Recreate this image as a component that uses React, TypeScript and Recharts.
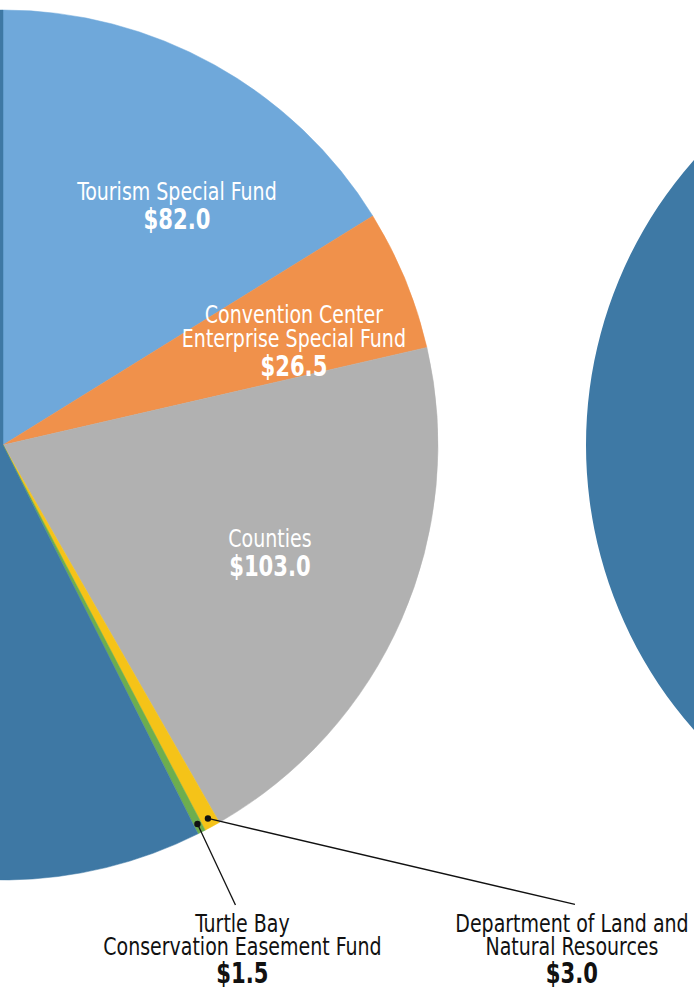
import React from "react";
import { PieChart, Pie, Cell } from "recharts";

// values in $ millions
const names = [
  "Tourism Special Fund",
  "Convention Center Enterprise Special Fund",
  "Counties",
  "Department of Land and Natural Resources",
  "Turtle Bay Conservation Easement Fund",
  "Remaining Allocation",
];
const values = [82.0, 26.5, 103.0, 3.0, 1.5, 291.0];
const valueLabels = ["$82.0", "$26.5", "$103.0", "$3.0", "$1.5", ""];
const labelLines = [
  ["Tourism Special Fund"],
  ["Convention Center", "Enterprise Special Fund"],
  ["Counties"],
  ["Department of Land and", "Natural Resources"],
  ["Turtle Bay", "Conservation Easement Fund"],
  [],
];
const colors = ["#6FA8DA", "#F0914B", "#B1B1B1", "#F5C318", "#6DAE4F", "#3E78A4"];

const rightNames = ["Right Pie"];
const rightValues = [1];
const rightColors = ["#3E79A5"];

const data = names.map((name, i) => ({
  name,
  value: values[i],
  valueLabel: valueLabels[i],
  lines: labelLines[i],
  color: colors[i],
}));
const rightData = rightNames.map((name, i) => ({ name, value: rightValues[i], color: rightColors[i] }));

const FONT = "'Liberation Sans Narrow', 'DejaVu Sans Condensed', 'Arial Narrow', sans-serif";
const RAD = Math.PI / 180;

// label layout: inside labels placed along the slice angle, outside ones with a leader line
const inside: Record<number, { rf: number; shift: number }> = {
  0: { rf: 0.69, shift: -6.3 },
  1: { rf: 0.725, shift: 0.35 },
  2: { rf: 0.657, shift: 2.7 },
};
const outside: Record<number, { line: [number, number]; text: [number, number] }> = {
  3: { line: [367, 86], text: [364, 114] },
  4: { line: [38, 81], text: [45, 108] },
};

// narrow text: squeeze horizontally around its anchor
const Narrow = ({ x, y, size, bold, fill, sx, children }: any) => (
  <text
    transform={`translate(${x},${y}) scale(${sx},1)`}
    x={0}
    y={0}
    textAnchor="middle"
    fill={fill}
    fontFamily={FONT}
    fontSize={size}
    fontWeight={bold ? "bold" : "normal"}
  >
    {children}
  </text>
);

const renderLabel = (props: any) => {
  const { cx, cy, midAngle, outerRadius, index } = props;
  const item = data[index];
  if (inside[index]) {
    const { rf, shift } = inside[index];
    const a = (midAngle + shift) * RAD;
    const x = cx + outerRadius * rf * Math.cos(a);
    const y = cy - outerRadius * rf * Math.sin(a);
    const n = item.lines.length;
    return (
      <g key={`lbl-${index}`}>
        {item.lines.map((t: string, j: number) => (
          <Narrow key={j} x={x} y={y + j * 24} size={24} fill="#fff" sx={0.88}>
            {t}
          </Narrow>
        ))}
        <Narrow x={x} y={y + (n - 1) * 24 + 29} size={28} bold fill="#fff" sx={0.84}>
          {item.valueLabel}
        </Narrow>
      </g>
    );
  }
  if (outside[index]) {
    const { line, text } = outside[index];
    const a = midAngle * RAD;
    const dx = cx + (outerRadius - 9) * Math.cos(a);
    const dy = cy - (outerRadius - 9) * Math.sin(a);
    const tx = dx + text[0];
    const ty = dy + text[1];
    return (
      <g key={`lbl-${index}`}>
        <line x1={dx} y1={dy} x2={dx + line[0]} y2={dy + line[1]} stroke="#111" strokeWidth={1.3} />
        <circle cx={dx} cy={dy} r={3.2} fill="#111" />
        {item.lines.map((t: string, j: number) => (
          <Narrow key={j} x={tx} y={ty + j * 23} size={24} fill="#111" sx={0.88}>
            {t}
          </Narrow>
        ))}
        <Narrow x={tx} y={ty + 23 + 28} size={28} bold fill="#111" sx={0.84}>
          {item.valueLabel}
        </Narrow>
      </g>
    );
  }
  return null;
};

export default function App() {
  return (
    <div style={{ position: "absolute", left: 0, top: 0, background: "#fff" }}>
      <PieChart width={694} height={992} margin={{ top: 0, right: 0, bottom: 0, left: 0 }}>
        <Pie
          data={rightData}
          dataKey="value"
          cx={1016}
          cy={445}
          outerRadius={430}
          startAngle={90}
          endAngle={-270}
          stroke="none"
          isAnimationActive={false}
        >
          {rightData.map((d, i) => (
            <Cell key={`r-${i}`} fill={d.color} />
          ))}
        </Pie>
        <Pie
          data={data}
          dataKey="value"
          cx={3}
          cy={445}
          outerRadius={435}
          startAngle={90}
          endAngle={-270}
          label={renderLabel}
          labelLine={false}
          isAnimationActive={false}
        >
          {data.map((d, i) => (
            <Cell key={`c-${i}`} fill={d.color} stroke={d.color} strokeWidth={0.5} />
          ))}
        </Pie>
      </PieChart>
    </div>
  );
}
